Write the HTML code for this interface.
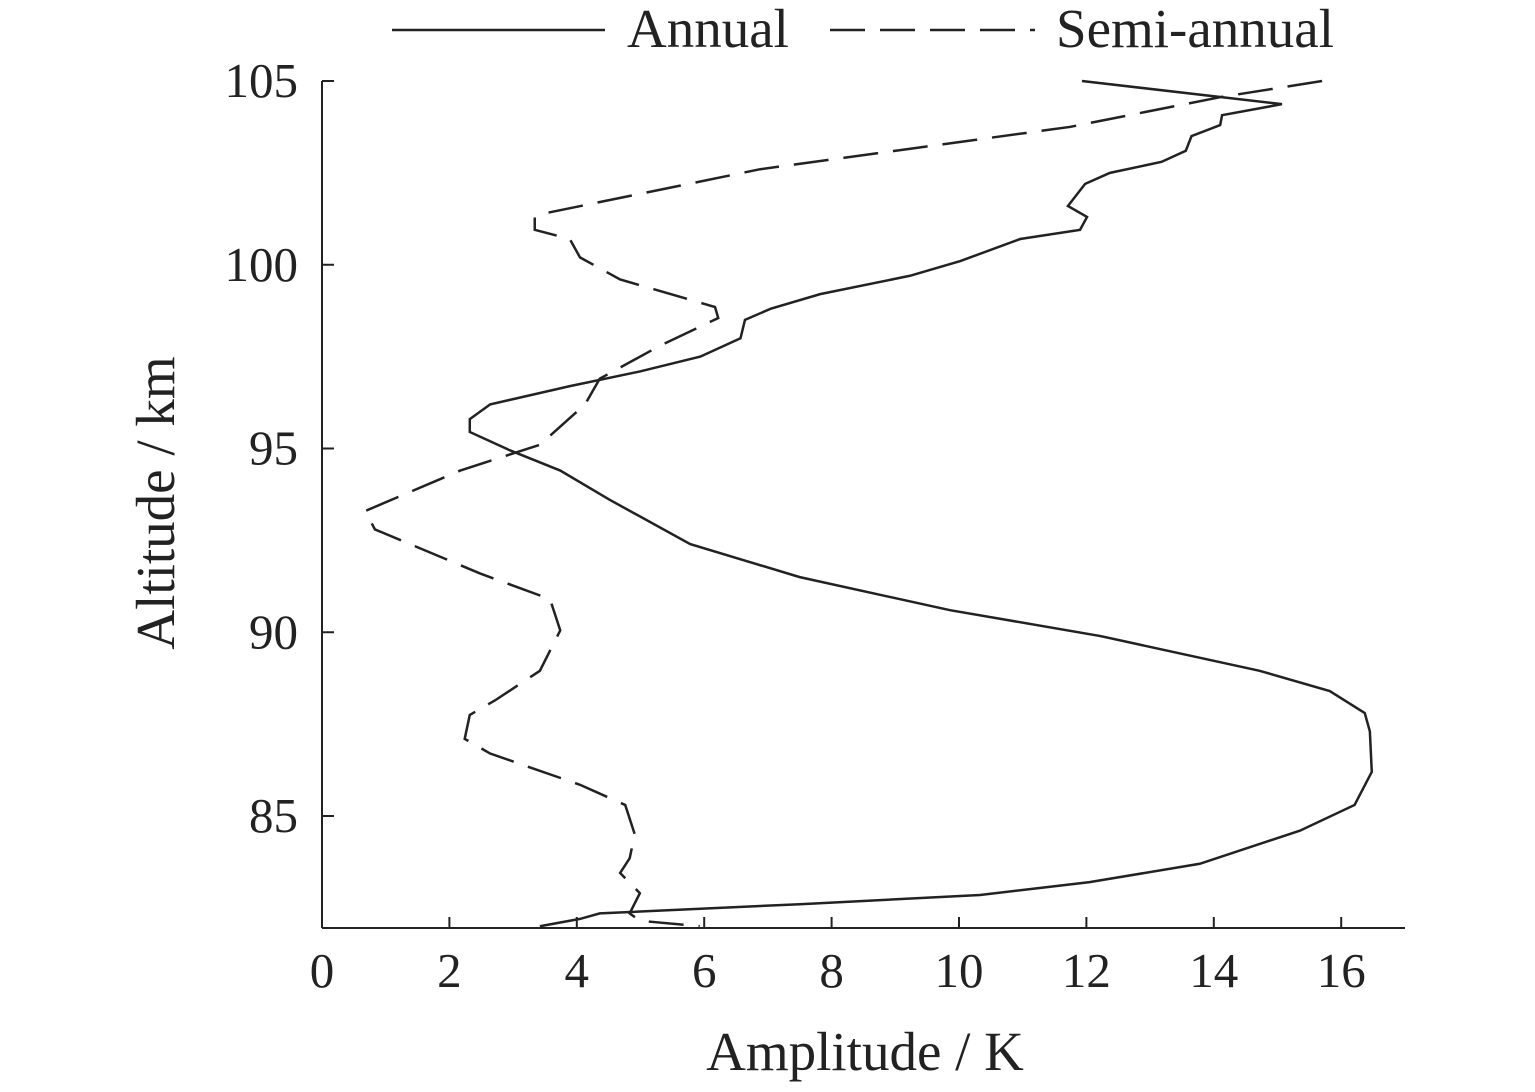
<!DOCTYPE html>
<html><head><meta charset="utf-8"><style>
body{margin:0;background:#fff}
svg text{font-family:"Liberation Serif",serif;fill:#222}
</style></head><body>
<svg id="chart" width="1535" height="1087" xmlns="http://www.w3.org/2000/svg"></svg>
<script>
const xTicks=[0,2,4,6,8,10,12,14,16];
const yTicks=[85,90,95,100,105];
const annualAmp=[11.93,15.07,14.13,14.1,13.65,13.56,13.18,12.37,11.98,11.71,12.01,11.9,10.96,10.02,9.23,7.82,7.04,6.64,6.57,5.94,5.0,3.9,2.64,2.32,2.32,2.95,3.74,4.52,5.78,7.5,9.86,12.21,14.72,15.82,16.37,16.45,16.48,16.21,15.35,13.78,12.05,10.33,7.5,4.36,4.05,3.42];
const annualAlt=[105,104.37,104.07,103.8,103.5,103.1,102.8,102.5,102.2,101.6,101.3,100.95,100.7,100.1,99.7,99.2,98.8,98.5,98.0,97.5,97.1,96.7,96.2,95.8,95.45,94.95,94.4,93.6,92.4,91.5,90.6,89.9,88.95,88.4,87.8,87.3,86.2,85.3,84.6,83.7,83.2,82.85,82.6,82.35,82.2,82];
const semiAmp=[15.7,14.1,11.74,6.88,3.5,3.34,3.34,3.89,4.05,4.68,6.17,6.22,5.31,4.36,4.13,3.42,2.17,0.68,0.83,2.48,3.58,3.74,3.42,2.72,2.32,2.24,2.64,4.05,4.76,4.91,4.83,4.68,4.99,4.83,4.99,5.93];
const semiAlt=[105,104.56,103.75,102.6,101.4,101.3,100.95,100.7,100.2,99.6,98.85,98.55,97.8,96.9,96.2,95.1,94.4,93.3,92.8,91.6,90.9,90.05,88.95,88.15,87.75,87.1,86.7,85.85,85.3,84.5,83.85,83.45,82.9,82.35,82.15,82];

const X=v=>322+v*63.7;
const Y=a=>81+(105-a)*36.75;
const svg=document.getElementById('chart');
const NS='http://www.w3.org/2000/svg';
function mk(t,at,p){const e=document.createElementNS(NS,t);for(const k in at)e.setAttribute(k,at[k]);(p||svg).appendChild(e);return e;}

let e=mk('line',{x1:322,y1:81,x2:322,y2:928,stroke:'#222','stroke-width':2});


e=mk('line',{x1:322,y1:928,x2:1405,y2:928,stroke:'#222','stroke-width':2});



xTicks.forEach(v=>{
  let t=mk('line',{x1:X(v),y1:928,x2:X(v),y2:917,stroke:'#222','stroke-width':2});
  
  
  let l=mk('text',{x:X(v),y:987,'font-size':49,'text-anchor':'middle'});l.textContent=v;
  
  
});
yTicks.forEach(v=>{
  let t=mk('line',{x1:322,y1:Y(v),x2:334,y2:Y(v),stroke:'#222','stroke-width':2});
  
  
  let l=mk('text',{x:298,y:Y(v)+16,'font-size':49,'text-anchor':'end'});l.textContent=v;
  
  
});
e=mk('text',{x:865,y:1070,'font-size':55,'text-anchor':'middle'});e.textContent='Amplitude / K';


e=mk('text',{x:0,y:0,'font-size':55,'text-anchor':'middle',transform:'translate(174,503) rotate(-90)'});e.textContent='Altitude / km';



function pts(a,b){return a.map((v,i)=>X(v)+','+Y(b[i])).join(' ');}
e=mk('polyline',{points:pts(annualAmp,annualAlt),fill:'none',stroke:'#222','stroke-width':2.5});


e=mk('polyline',{points:pts(semiAmp,semiAlt),fill:'none',stroke:'#222','stroke-width':2.5,'stroke-dasharray':'35 15'});



let g=mk('g',{});


e=mk('line',{x1:392,y1:30,x2:605,y2:30,stroke:'#222','stroke-width':2.5},g);


e=mk('text',{x:627,y:47,'font-size':55},g);e.textContent='Annual';


e=mk('line',{x1:830,y1:30,x2:1035,y2:30,stroke:'#222','stroke-width':2.5,'stroke-dasharray':'35 15'},g);


e=mk('text',{x:1056,y:47,'font-size':55},g);e.textContent='Semi-annual';


</script>
</body></html>
